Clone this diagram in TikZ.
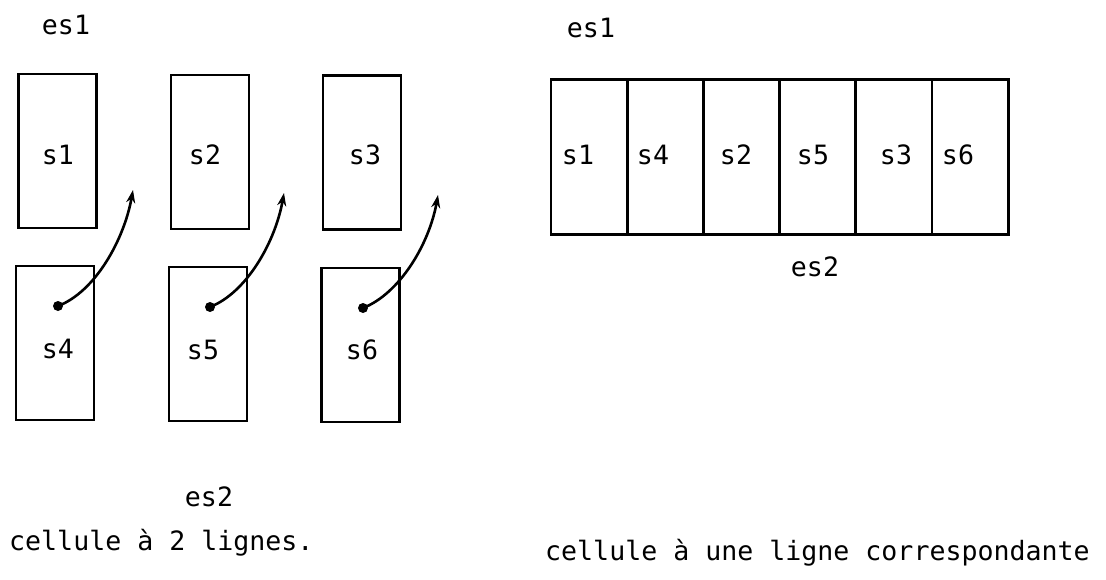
\documentclass[tikz,border=0pt]{standalone}
\usepackage{fontspec}
\setmainfont{DejaVu Sans Mono}
\usetikzlibrary{arrows.meta}
\begin{document}
\begin{tikzpicture}[x=1pt,y=-1pt,
  cellbox/.style={draw,line width=2.8pt,inner sep=0pt,minimum width=78pt,minimum height=154pt},
  onecell/.style={draw,line width=2.8pt,inner sep=0pt,minimum width=76.2pt,minimum height=155pt},
  txt/.style={font=\fontsize{26.6}{30}\selectfont,inner sep=0pt},
  link/.style={line width=2.6pt,-{Stealth[length=13pt,width=9pt]}},
  dotmark/.style={fill=black}]
\useasboundingbox (0,0) rectangle (1106,580);
% left: two-line cell
\node[txt] (es1a) at (66,25) {es1};
\node[cellbox] (b1) at (57.5,151) {};
\node[cellbox] (b2) at (210,152) {};
\node[cellbox] (b3) at (362,152.5) {};
\node[cellbox] (b4) at (55,343) {};
\node[cellbox] (b5) at (208,344) {};
\node[cellbox] (b6) at (360.5,345) {};
\node[txt] (l1) at (58,155) {s1};
\node[txt] (l2) at (205,155) {s2};
\node[txt] (l3) at (365,155) {s3};
\node[txt] (l4) at (58,349) {s4};
\node[txt] (l5) at (203,350) {s5};
\node[txt] (l6) at (362,350) {s6};
\coordinate (d4) at (58,306);
\coordinate (d5) at (210,307);
\coordinate (d6) at (363,308);
\coordinate (t1) at (133,190);
\coordinate (t2) at (284,193);
\coordinate (t3) at (438,195);
\fill[dotmark] (d4) circle (5);
\fill[dotmark] (d5) circle (5);
\fill[dotmark] (d6) circle (5);
\draw[link] (d4) .. controls (95,292) and (124,240) .. (t1);
\draw[link] (d5) .. controls (246,293) and (275,243) .. (t2);
\draw[link] (d6) .. controls (399,294) and (429,245) .. (t3);
\node[txt] (es2a) at (209,497) {es2};
\node[txt,anchor=west] (cap1) at (9,543) {cellule à 2 lignes.};
% right: one-line cell
\node[txt] (es1b) at (591,28) {es1};
\node[onecell] (c1) at (589.1,157) {};
\node[onecell] (c2) at (665.3,157) {};
\node[onecell] (c3) at (741.5,157) {};
\node[onecell] (c4) at (817.7,157) {};
\node[onecell] (c5) at (893.9,157) {};
\node[onecell] (c6) at (970.1,157) {};
\node[txt] (m1) at (578,155) {s1};
\node[txt] (m2) at (653,155) {s4};
\node[txt] (m3) at (736,155) {s2};
\node[txt] (m4) at (813,155) {s5};
\node[txt] (m5) at (896,155) {s3};
\node[txt] (m6) at (958,155) {s6};
\node[txt] (es2b) at (815,267) {es2};
\node[txt,anchor=west] (cap2) at (545,553) {cellule à une ligne correspondante};
\end{tikzpicture}
\end{document}
